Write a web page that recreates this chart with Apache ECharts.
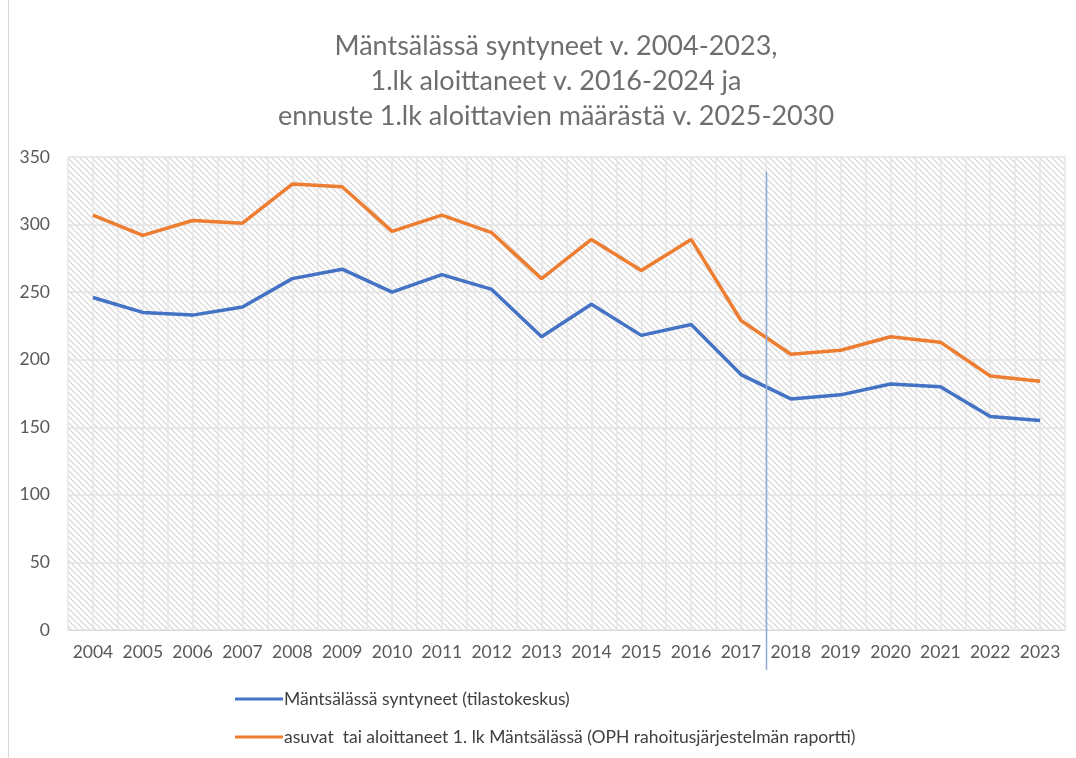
<!DOCTYPE html>
<html><head><meta charset="utf-8">
<script src="https://cdn.jsdelivr.net/npm/echarts@6/dist/echarts.min.js"></script>
<style>html,body{margin:0;padding:0;background:#fff}#c{width:1076px;height:758px}</style>
</head><body><div id="c"></div>
<script>
var years = ['2004','2005','2006','2007','2008','2009','2010','2011','2012','2013','2014','2015','2016','2017','2018','2019','2020','2021','2022','2023'];
var syntyneet = [246,235,233,239,260,267,250,263,252,217,241,218,226,189,171,174,182,180,158,155];
var aloittaneet = [307,292,303,301,330,328,295,307,294,260,289,266,289,229,204,207,217,213,188,184];
var yTicks = [0,50,100,150,200,250,300,350];
var titleLines = ['Mäntsälässä syntyneet v. 2004-2023,','1.lk aloittaneet v. 2016-2024 ja','ennuste 1.lk aloittavien määrästä v. 2025-2030'];
var seriesNames = ['Mäntsälässä syntyneet (tilastokeskus)','asuvat  tai aloittaneet 1. lk Mäntsälässä (OPH rahoitusjärjestelmän raportti)'];

var tile = document.createElement('canvas');
tile.width = 6; tile.height = 6;
var g = tile.getContext('2d');
g.fillStyle = '#ffffff'; g.fillRect(0,0,6,6);
g.strokeStyle = '#d3d3d3'; g.lineWidth = 1.1;
g.beginPath();
g.moveTo(0,0); g.lineTo(6,6);
g.moveTo(-3,3); g.lineTo(3,9);
g.moveTo(3,-3); g.lineTo(9,3);
g.stroke();

var font = 'Lato, "Open Sans", sans-serif';
var chart = echarts.init(document.getElementById('c'));
chart.setOption({
  backgroundColor: '#fff',
  animation: false,
  title: {
    text: titleLines.join('\n'),
    left: 551, top: 24, textAlign: 'center',
    textStyle: {fontFamily: font, fontSize: 27, fontWeight: 'normal', color: '#6e6e6e', lineHeight: 35, align: 'center'}
  },
  grid: {left: 68, right: 11, top: 157, bottom: 128, show: true, borderWidth: 0,
         backgroundColor: {image: tile, repeat: 'repeat'}},
  legend: {
    orient: 'vertical', left: 230, top: 685, itemGap: 20,
    itemWidth: 48, itemHeight: 3, icon: 'rect',
    textStyle: {fontFamily: font, fontSize: 17.5, color: '#404040', padding: [0,0,0,-4]},
    data: seriesNames
  },
  xAxis: [{
    type: 'category', data: years, boundaryGap: true,
    axisLine: {lineStyle: {color: '#d9d9d9', width: 1}},
    axisTick: {show: false},
    axisLabel: {fontFamily: font, fontSize: 17.5, color: '#595959', margin: 13, interval: 0, hideOverlap: false},
    splitLine: {show: false}
  }, {
    type: 'value', min: -0.5, max: 19.5, interval: 0.5, position: 'top',
    axisLine: {show: false}, axisTick: {show: false}, axisLabel: {show: false},
    splitLine: {show: true, lineStyle: {color: '#e6e6e6', width: 1.5}}
  }],
  yAxis: {
    type: 'value', min: yTicks[0], max: yTicks[yTicks.length-1], interval: 50,
    axisLine: {show: false}, axisTick: {show: false},
    axisLabel: {fontFamily: font, fontSize: 17.5, color: '#595959', margin: 18},
    splitLine: {lineStyle: {color: '#e3e3e3', width: 1.5}}
  },
  series: [{
    name: seriesNames[0], type: 'line', data: syntyneet, xAxisIndex: 0,
    showSymbol: false, symbol: 'none', z: 5,
    itemStyle: {color: '#4472C4'},
    lineStyle: {color: '#4472C4', width: 3.5}
  }, {
    name: seriesNames[1], type: 'line', data: aloittaneet, xAxisIndex: 0,
    showSymbol: false, symbol: 'none', z: 5,
    itemStyle: {color: '#ED7D31'},
    lineStyle: {color: '#ED7D31', width: 3.5}
  }]
});

var x1 = chart.convertToPixel({xAxisIndex: 0}, '2017');
var x2 = chart.convertToPixel({xAxisIndex: 0}, '2018');
var xm = Math.round((x1 + x2) / 2) + 0.5;
var yTop = chart.convertToPixel({yAxisIndex: 0}, 339);
var yBot = chart.convertToPixel({yAxisIndex: 0}, 0) + 40;
chart.setOption({
  graphic: [{
    type: 'line', z: 10,
    shape: {x1: xm, y1: yTop, x2: xm, y2: yBot},
    style: {stroke: '#8eaadb', lineWidth: 1.5}
  }, {
    type: 'rect', z: -1, silent: true,
    shape: {x: 8.5, y: -2, width: 1080, height: 800},
    style: {fill: 'none', stroke: '#d9d9d9', lineWidth: 1}
  }]
});
</script></body></html>
